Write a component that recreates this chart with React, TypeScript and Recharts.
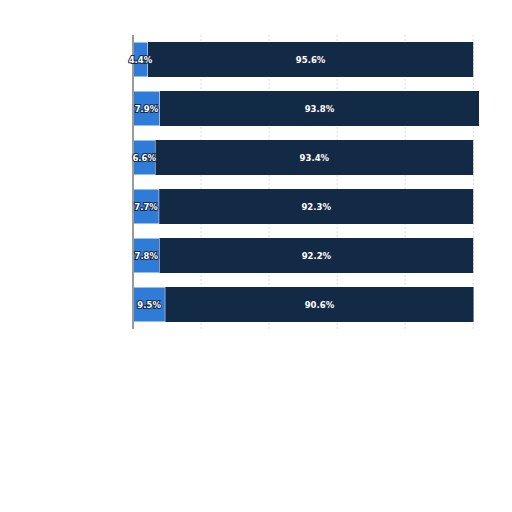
import React from 'react';
import { BarChart, Bar, XAxis, YAxis, CartesianGrid, LabelList } from 'recharts';

const categories = ['A', 'B', 'C', 'D', 'E', 'F'];
const lightValues = [4.4, 7.9, 6.6, 7.7, 7.8, 9.5];
const darkValues = [95.6, 93.8, 93.4, 92.3, 92.2, 90.6];
const xTicks = [0, 20, 40, 60, 80, 100];

const data = categories.map((name, i) => ({ name, light: lightValues[i], dark: darkValues[i] }));

const renderLabel = (props: any) => {
  const { x, y, width, height, value } = props;
  return (
    <text
      x={x + width / 2}
      y={y + height / 2}
      textAnchor="middle"
      dominantBaseline="central"
      fill="#ffffff"
      stroke="#1a2a44"
      strokeWidth={2}
      paintOrder="stroke"
      fontFamily="DejaVu Sans, sans-serif"
      fontWeight="bold"
      fontSize={8.5}
    >
      {`${value}%`}
    </text>
  );
};

const gridGen = (p: any) => {
  const scale = p?.xAxis?.scale;
  if (scale && typeof scale === 'function') {
    return xTicks.map((t) => scale(t));
  }
  const left = p?.offset?.left ?? 125;
  const w = p?.offset?.width ?? 346;
  return xTicks.map((t) => left + (w * t) / 101.7);
};

export default function App() {
  return (
    <BarChart
      width={504}
      height={504}
      data={data}
      layout="vertical"
      margin={{ top: 27, right: 33, bottom: 183, left: 115 }}
      barSize={35}
    >
      <CartesianGrid horizontal={false} stroke="#dcdcdc" strokeDasharray="2 2" verticalCoordinatesGenerator={gridGen} />
      <XAxis type="number" domain={[0, 101.7]} ticks={xTicks} hide />
      <YAxis
        type="category"
        dataKey="name"
        width={10}
        tick={false}
        tickLine={false}
        axisLine={{ stroke: '#9a9a9a', strokeWidth: 2 }}
      />
      <Bar dataKey="light" stackId="s" fill="#2f7bd8" stroke="#ffffff" strokeWidth={1} isAnimationActive={false}>
        <LabelList dataKey="light" content={renderLabel} />
      </Bar>
      <Bar dataKey="dark" stackId="s" fill="#132a46" isAnimationActive={false}>
        <LabelList dataKey="dark" content={renderLabel} />
      </Bar>
    </BarChart>
  );
}
